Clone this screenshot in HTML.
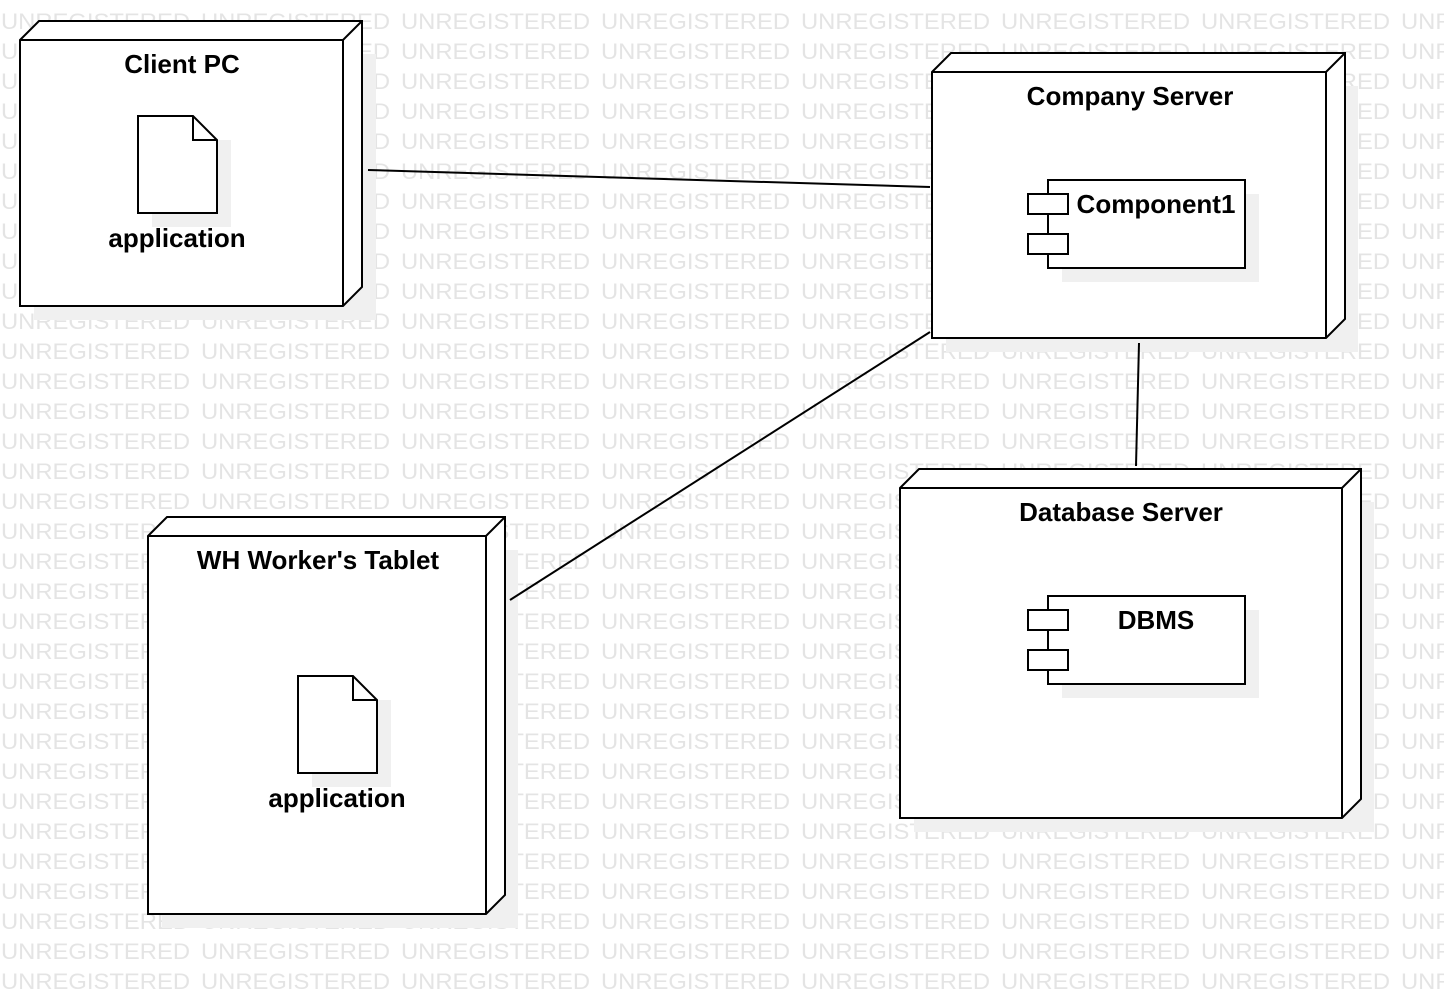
<!DOCTYPE html>
<html><head><meta charset="utf-8"><style>html,body{margin:0;padding:0;background:#fff}svg{display:block}</style></head>
<body>
<svg width="1444" height="996" xmlns="http://www.w3.org/2000/svg" font-family="Liberation Sans, Arial, sans-serif">
<defs>
<pattern id="wm" x="0" y="0" width="200" height="30" patternUnits="userSpaceOnUse">
<text x="1" y="29" font-size="22" fill="#e4e4e4" textLength="189" lengthAdjust="spacingAndGlyphs">UNREGISTERED</text>
</pattern>
</defs>
<rect width="1444" height="996" fill="url(#wm)"/>
<!-- shadows -->
<g fill="#f0f0f0">
<rect x="34" y="54" width="342" height="266"/>
<rect x="946" y="86" width="412" height="266"/>
<rect x="914" y="502" width="460" height="330"/>
<rect x="162" y="550" width="356" height="378"/>
</g>
<g stroke="#000" stroke-width="2" fill="none">
<line x1="368" y1="170" x2="930" y2="187"/>
<line x1="930" y1="332" x2="510" y2="600"/>
<line x1="1139" y1="343" x2="1136" y2="466"/>
</g>
<g stroke="#000" stroke-width="2" fill="#fff" stroke-linejoin="miter">
<polygon points="20,40 39,21 362,21 362,287 343,306 20,306"/>
<polyline points="20,40 343,40 362,21" fill="none"/><line x1="343" y1="40" x2="343" y2="306"/>
<polygon points="932,72 951,53 1345,53 1345,319 1326,338 932,338"/>
<polyline points="932,72 1326,72 1345,53" fill="none"/><line x1="1326" y1="72" x2="1326" y2="338"/>
<polygon points="900,488 919,469 1361,469 1361,799 1342,818 900,818"/>
<polyline points="900,488 1342,488 1361,469" fill="none"/><line x1="1342" y1="488" x2="1342" y2="818"/>
<polygon points="148,536 167,517 505,517 505,895 486,914 148,914"/>
<polyline points="148,536 486,536 505,517" fill="none"/><line x1="486" y1="536" x2="486" y2="914"/>
</g>
<g fill="#f0f0f0">
<rect x="152" y="140" width="79" height="87"/>
<rect x="312" y="700" width="79" height="87"/>
<rect x="1062" y="194" width="197" height="88"/>
<rect x="1062" y="610" width="197" height="88"/>
</g>
<g stroke="#000" stroke-width="2" fill="#fff">
<polygon points="138,116 193,116 217,140 217,213 138,213"/>
<polyline points="193,116 193,140 217,140" fill="none"/>
<polygon points="298,676 353,676 377,700 377,773 298,773"/>
<polyline points="353,676 353,700 377,700" fill="none"/>
<rect x="1048" y="180" width="197" height="88"/>
<rect x="1028" y="194" width="40" height="20"/>
<rect x="1028" y="234" width="40" height="20"/>
<rect x="1048" y="596" width="197" height="88"/>
<rect x="1028" y="610" width="40" height="20"/>
<rect x="1028" y="650" width="40" height="20"/>
</g>
<g font-weight="bold" font-size="26" fill="#000" text-anchor="middle">
<text x="182" y="73">Client PC</text>
<text x="177" y="247">application</text>
<text x="1130" y="105">Company Server</text>
<text x="1156" y="213">Component1</text>
<text x="1121" y="521">Database Server</text>
<text x="1156" y="629">DBMS</text>
<text x="318" y="569">WH Worker's Tablet</text>
<text x="337" y="807">application</text>
</g>
</svg>
</body></html>
